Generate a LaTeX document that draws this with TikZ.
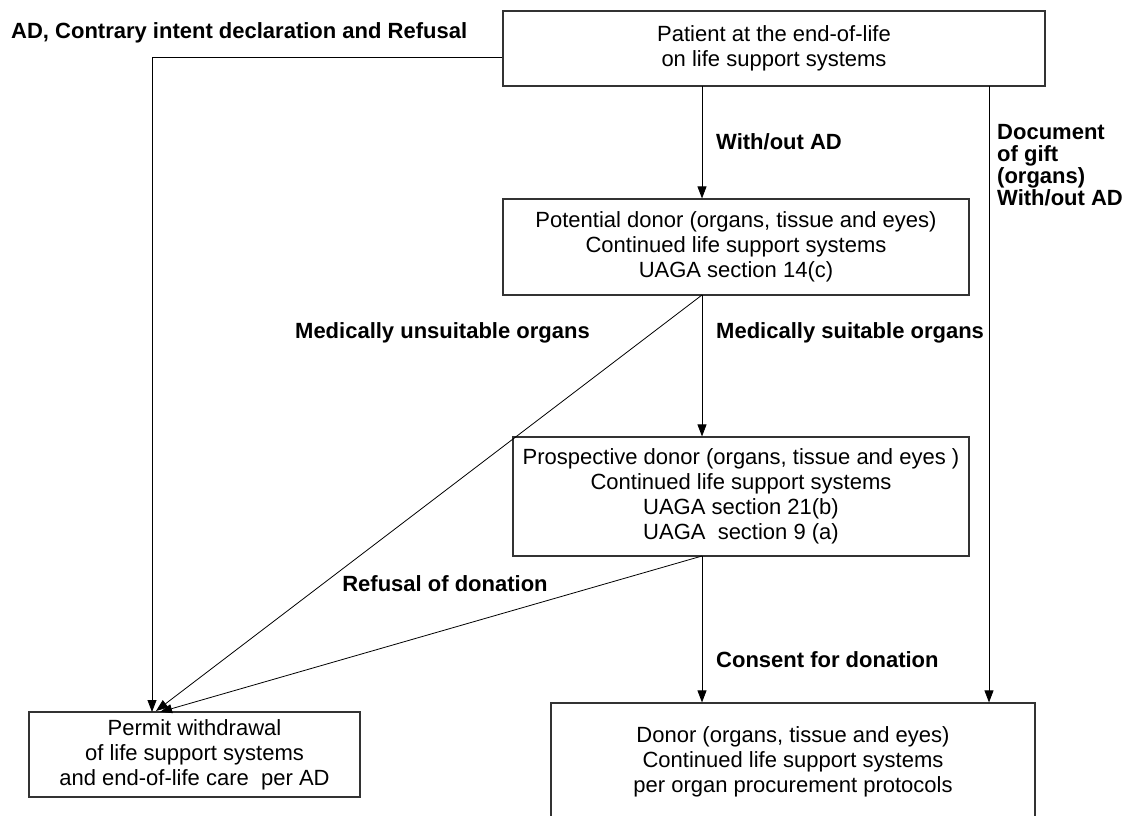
\documentclass[tikz,border=0pt]{standalone}
\usepackage{fontspec}
\setmainfont{Liberation Sans}
\usetikzlibrary{positioning,arrows.meta}

\begin{document}
\begin{tikzpicture}
  [x=1pt,y=-1pt,
   every node/.style={inner sep=0pt,font=\fontsize{22}{25}\selectfont},
   box/.style={draw=black!80,line width=1.2pt,rectangle,align=center},
   lbl/.style={align=left,font=\fontsize{22}{22}\selectfont\bfseries},
   arr/.style={draw=black,line width=0.8pt,-{Triangle[length=12pt,width=9pt]}}]
  \useasboundingbox (0,0) rectangle (1124,815);

  \node[box,minimum width=542pt,minimum height=75pt] (patient) at (774,48.5)
    {Patient at the end-of-life\\on life support systems};
  \node[box,minimum width=466pt,minimum height=96pt] (potential) at (736,247)
    {Potential donor (organs, tissue and eyes)\\Continued life support systems\\UAGA section 14(c)};
  \node[box,minimum width=456pt,minimum height=119pt] (prospective) at (741,496.5)
    {Prospective donor (organs, tissue and eyes )\\Continued life support systems\\UAGA section 21(b)\\UAGA\ \ section 9 (a)};
  \node[box,minimum width=331pt,minimum height=85pt] (permit) at (194.5,754.5)
    {Permit withdrawal\\of life support systems\\and end-of-life care\ \ per AD};
  \node[box,minimum width=484pt,minimum height=118pt] (donor) at (793,762)
    {Donor (organs, tissue and eyes)\\Continued life support systems\\per organ procurement protocols};

  \coordinate (ptop) at (702,86);
  \coordinate (pgift) at (989,86);
  \coordinate (potbot) at (702,295);
  \coordinate (prosbot) at (702,556);
  \coordinate (pin1) at (152,712);
  \coordinate (pin2) at (156,711);
  \coordinate (pin3) at (160,712);

  \draw[arr] ([yshift=-8.5pt]patient.west) -| (pin1);
  \draw[arr] (ptop) -- (ptop |- potential.north);
  \draw[arr] (pgift) -- (pgift |- donor.north);
  \draw[arr] (potbot) -- (potbot |- prospective.north);
  \draw[arr] (potbot) -- (pin2);
  \draw[arr] (prosbot) -- (pin3);
  \draw[arr] (prosbot) -- (prosbot |- donor.north);

  \node[lbl,anchor=west] (adlbl) at (11,33) {AD, Contrary intent declaration and Refusal};
  \node[lbl,anchor=west] (withoutlbl) at (716,142) {With/out AD};
  \node[lbl,anchor=west] (giftlbl) at (997,165) {Document\\of gift\\(organs)\\With/out AD};
  \node[lbl,anchor=east] (unsuitlbl) at (590,333) {Medically unsuitable organs};
  \node[lbl,anchor=west] (suitlbl) at (716,333) {Medically suitable organs};
  \node[lbl] (refuslbl) at (445,584) {Refusal of donation};
  \node[lbl,anchor=west] (consentlbl) at (716,660) {Consent for donation};
\end{tikzpicture}
\end{document}
